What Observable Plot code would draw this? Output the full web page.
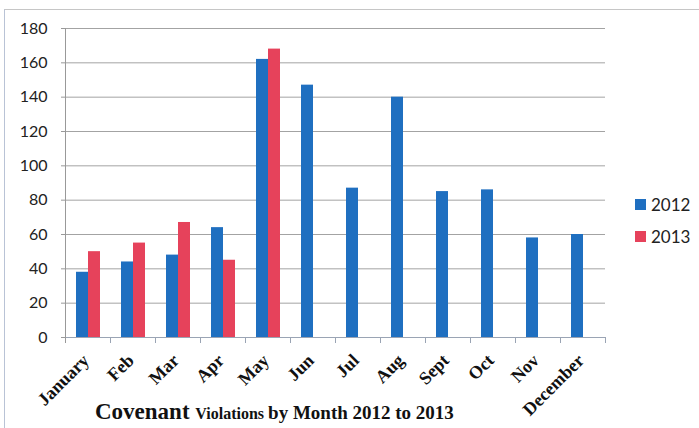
<!DOCTYPE html>
<html><head><meta charset="utf-8">
<script src="https://cdn.jsdelivr.net/npm/d3@7"></script>
<script src="https://cdn.jsdelivr.net/npm/@observablehq/plot@0.6"></script>
<style>
body{margin:0;background:#fff;}
#wrap{position:relative;width:699px;height:428px;overflow:hidden;background:#fff;}
#border{position:absolute;left:4px;top:9px;width:720px;height:440px;border:1px solid #c6c6c6;border-left-color:#b9c3d6;}
#chart{position:absolute;left:0;top:0;}
#legend{position:absolute;left:635px;top:192px;font-family:Lato, sans-serif;font-size:17px;color:#222;}
#legend .row{display:flex;align-items:center;height:24px;margin-bottom:8px;}
#legend .sw{width:11px;height:11px;margin-right:5px;}
#title{position:absolute;left:95px;top:400px;font-family:"Liberation Serif", serif;font-weight:bold;white-space:nowrap;color:#111;font-size:23px;line-height:23px;}
</style></head>
<body><div id="wrap"><div id="border"></div><div id="chart"></div><div id="legend"></div><div id="title"></div></div>
<script>
const months = ["January","Feb","Mar","Apr","May","Jun","Jul","Aug","Sept","Oct","Nov","December"];
const years = ["2012","2013"];
const values2012 = [38,44,48,64,162,147,87,140,85,86,58,60];
const values2013 = [50,55,67,45,168];
const yTicks = [0,20,40,60,80,100,120,140,160,180];
const colors = ["#1f6fc0","#e6425b"];
const titleParts = [["Covenant ",23],["Violations ",16],["by Month 2012 to 2013",19]];

const data = [];
months.forEach((m, i) => {
  if (values2012[i] != null) data.push({month: m, year: "2012", value: values2012[i]});
  if (values2013[i] != null) data.push({month: m, year: "2013", value: values2013[i]});
});

const plot = Plot.plot({
  width: 620, height: 428,
  marginLeft: 62, marginRight: 13, marginTop: 28, marginBottom: 91,
  style: {fontFamily: "Lato, sans-serif", fontSize: "16px", color: "#222", background: "transparent"},
  fx: {domain: months, padding: 0, label: null},
  x: {domain: years, paddingInner: 0, paddingOuter: 0.8, axis: null},
  y: {domain: [0, 180], ticks: yTicks, label: null},
  color: {domain: years, range: colors},
  marks: [
    Plot.gridY(yTicks, {stroke: "#a3a3a3", strokeOpacity: 1}),
    Plot.axisY(yTicks, {tickSize: 4, tickPadding: 14, fontSize: 16, fontFamily: "Lato, sans-serif", stroke: "#999", label: null}),
    Plot.barY(data, {fx: "month", x: "year", y: "value", fill: "year"}),
    Plot.ruleY([0], {stroke: "#9aa4b4"}),
    Plot.frame({anchor: "right", insetTop: 309, insetBottom: -5, stroke: "#9aa4b4"}),
    Plot.frame({anchor: "left", facet: "super", insetBottom: -5, stroke: "#999"}),
    Plot.axisFx({anchor: "bottom", tickRotate: -45, tickSize: 0, tickPadding: 20, dx: -2, fontSize: 18, fontWeight: "bold", fontFamily: "Liberation Serif, serif", fill: "#111", label: null})
  ]
});
document.getElementById("chart").appendChild(plot);

const legend = d3.select("#legend");
years.forEach((y, i) => {
  const row = legend.append("div").attr("class", "row");
  row.append("div").attr("class", "sw").style("background", colors[i]);
  row.append("span").text(y);
});

const title = d3.select("#title");
titleParts.forEach(([t, s]) => title.append("span").style("font-size", s + "px").text(t));
</script>
</body></html>
